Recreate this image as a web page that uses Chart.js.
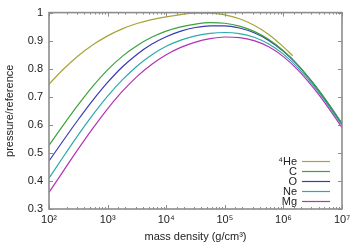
<!DOCTYPE html>
<html>
<head>
<meta charset="utf-8">
<script src="https://cdn.jsdelivr.net/npm/chart.js@4.4.0/dist/chart.umd.min.js"></script>
<style>
    html, body { margin: 0; padding: 0; background: #fff; }
    #wrap { width: 360px; height: 252px; }
</style>
</head>
<body>
<div id="wrap"><canvas id="pressureChart"></canvas></div>
<script>
// log10 of mass density (g/cm^3) at which the curves were read
const logRho = [2, 2.25, 2.5, 2.75, 3, 3.25, 3.5, 3.75, 4, 4.25, 4.5, 4.75, 5, 5.25, 5.5, 5.75, 6, 6.25, 6.5, 6.75, 7];
const heLogRho = [2, 2.25, 2.5, 2.75, 3, 3.25, 3.5, 3.75, 4, 4.25, 4.5, 4.75, 5, 5.25, 5.5, 5.75, 6, 6.16];

const heValues = [0.745, 0.799, 0.846, 0.885, 0.917, 0.942, 0.961, 0.975, 0.985, 0.993, 0.998, 0.998, 0.992, 0.978, 0.955, 0.922, 0.878, 0.846];
const cValues = [0.527, 0.601, 0.672, 0.738, 0.796, 0.844, 0.882, 0.912, 0.934, 0.949, 0.959, 0.964, 0.962, 0.952, 0.933, 0.904, 0.864, 0.813, 0.751, 0.681, 0.605];
const oValues = [0.471, 0.546, 0.619, 0.688, 0.751, 0.806, 0.851, 0.887, 0.914, 0.934, 0.947, 0.953, 0.953, 0.945, 0.928, 0.901, 0.862, 0.812, 0.75, 0.68, 0.604];
const neValues = [0.41, 0.488, 0.564, 0.636, 0.702, 0.76, 0.809, 0.849, 0.88, 0.902, 0.917, 0.926, 0.929, 0.925, 0.912, 0.888, 0.852, 0.803, 0.743, 0.674, 0.598];
const mgValues = [0.359, 0.437, 0.514, 0.588, 0.657, 0.719, 0.772, 0.815, 0.85, 0.876, 0.895, 0.907, 0.913, 0.911, 0.90, 0.878, 0.843, 0.795, 0.735, 0.666, 0.59];

const seriesNames = ['\u2074He', 'C', 'O', 'Ne', 'Mg'];
const seriesColors = ['#a8a438', '#3aa33a', '#3a3ab4', '#2eaaaa', '#b432b4'];

const yTicks = [0.3, 0.4, 0.5, 0.6, 0.7, 0.8, 0.9, 1];
const superDigits = ['\u2070', '\u00b9', '\u00b2', '\u00b3', '\u2074', '\u2075', '\u2076', '\u2077', '\u2078', '\u2079'];

function toPoints(xs, ys) {
    return xs.map((lx, i) => ({ x: Math.pow(10, lx), y: ys[i] }));
}

function decadeOf(v) {
    const e = Math.round(Math.log10(v));
    return Math.abs(v - Math.pow(10, e)) < 1e-6 * v ? e : null;
}

const allValues = [heValues, cValues, oValues, neValues, mgValues];
const datasets = allValues.map((vals, i) => ({
    label: seriesNames[i],
    data: toPoints(i === 0 ? heLogRho : logRho, vals),
    borderColor: seriesColors[i],
    borderWidth: 1.2,
    pointRadius: 0,
    fill: false,
    cubicInterpolationMode: 'monotone'
}));

// frame, inward ticks on all four sides, and the gnuplot style key
const framePlugin = {
    id: 'frame',
    afterDraw(chart) {
        const c = chart.ctx;
        const a = chart.chartArea;
        const xs = chart.scales.x;
        const ys = chart.scales.y;
        c.save();
        c.strokeStyle = '#8c8c8c';
        c.lineWidth = 1;
        xs.ticks.forEach(t => {
            const px = Math.round(xs.getPixelForValue(t.value)) + 0.5;
            const len = decadeOf(t.value) !== null ? 4 : 2;
            c.beginPath();
            c.moveTo(px, a.bottom); c.lineTo(px, a.bottom - len);
            c.moveTo(px, a.top); c.lineTo(px, a.top + len);
            c.stroke();
        });
        ys.ticks.forEach(t => {
            const py = Math.round(ys.getPixelForValue(t.value)) + 0.5;
            c.beginPath();
            c.moveTo(a.left, py); c.lineTo(a.left + 4, py);
            c.moveTo(a.right, py); c.lineTo(a.right - 4, py);
            c.stroke();
        });
        c.lineWidth = 1.6;
        c.strokeRect(a.left, a.top, a.right - a.left, a.bottom - a.top);

        c.font = '11px "Liberation Sans", Arial, sans-serif';
        c.textAlign = 'right';
        c.textBaseline = 'middle';
        c.lineWidth = 1.2;
        chart.data.datasets.forEach((ds, i) => {
            const y = 161.5 + i * 10;
            c.fillStyle = '#222';
            c.fillText(ds.label, 297, y + 0.5);
            c.strokeStyle = ds.borderColor;
            c.beginPath();
            c.moveTo(302, y); c.lineTo(330, y);
            c.stroke();
        });
        c.restore();
    }
};

const ctx = document.getElementById('pressureChart').getContext('2d');

const pressureChart = new Chart(ctx, {
    type: 'line',
    data: { datasets: datasets },
    options: {
        responsive: true,
        maintainAspectRatio: false,
        animation: false,
        layout: { padding: { left: 0, right: 18, top: 10, bottom: 0 } },
        plugins: {
            legend: { display: false },
            tooltip: { enabled: false }
        },
        scales: {
            x: {
                type: 'logarithmic',
                min: 100,
                max: 1e7,
                border: { display: false },
                grid: { display: false, drawTicks: false },
                afterFit: function (scale) { scale.height = 43; },
                ticks: {
                    autoSkip: false,
                    maxRotation: 0,
                    padding: 4,
                    color: '#222',
                    font: { family: '"Liberation Sans", Arial, sans-serif', size: 11 },
                    callback: function (value) {
                        const e = decadeOf(value);
                        if (e === null) {
                            return '';
                        }
                        return '10' + String(e).split('').map(d => superDigits[+d]).join('');
                    }
                },
                title: {
                    display: true,
                    text: 'mass density (g/cm\u00b3)',
                    color: '#222',
                    padding: { top: 2, bottom: 8 },
                    font: { family: '"Liberation Sans", Arial, sans-serif', size: 11 }
                }
            },
            y: {
                min: 0.3,
                max: 1,
                border: { display: false },
                grid: { display: false, drawTicks: false },
                afterFit: function (scale) { scale.width = 49; },
                afterBuildTicks: function (scale) {
                    scale.ticks = yTicks.map(v => ({ value: v }));
                },
                ticks: {
                    padding: 6,
                    color: '#222',
                    font: { family: '"Liberation Sans", Arial, sans-serif', size: 11 },
                    callback: function (value) {
                        return value === 1 ? '1' : value.toFixed(1);
                    }
                },
                title: {
                    display: true,
                    text: 'pressure/reference',
                    color: '#222',
                    padding: { top: 3, bottom: 0 },
                    font: { family: '"Liberation Sans", Arial, sans-serif', size: 11 }
                }
            }
        }
    },
    plugins: [framePlugin]
});
</script>
</body>
</html>
